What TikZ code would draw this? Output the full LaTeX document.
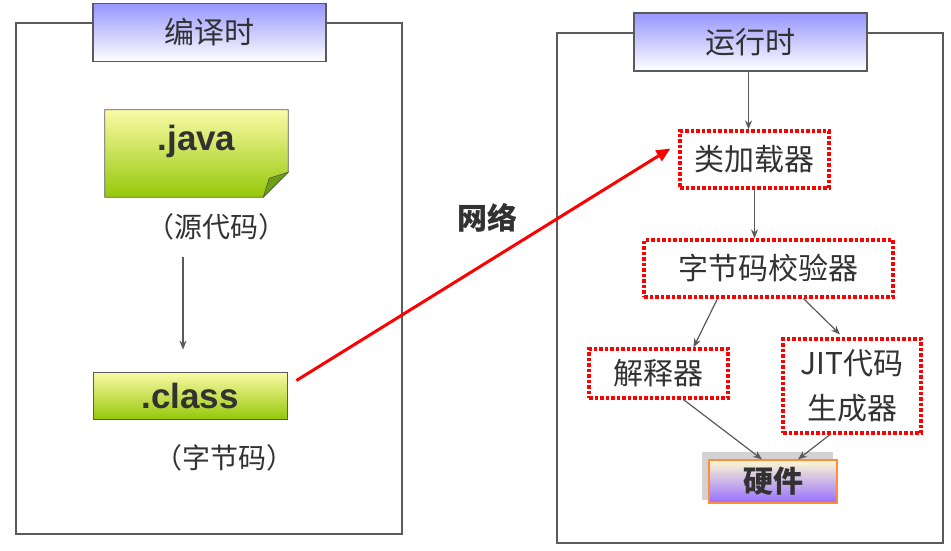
\documentclass[tikz,border=0pt]{standalone}
\usepackage{fontspec}
\setmainfont{Liberation Sans}
\newfontfamily\cjk{Noto Sans CJK SC}
\usepackage{xcolor}
\usetikzlibrary{arrows.meta,positioning,calc}

\definecolor{titletop}{RGB}{150,150,255}
\definecolor{greentop}{RGB}{250,250,165}
\definecolor{greenbot}{RGB}{150,200,10}
\definecolor{foldgreen}{RGB}{110,160,20}
\definecolor{hwtop}{RGB}{255,250,210}
\definecolor{hwbot}{RGB}{150,110,255}
\definecolor{hwedge}{RGB}{255,140,60}
\definecolor{textgray}{RGB}{50,50,50}
\definecolor{edgegray}{RGB}{90,90,90}

\begin{document}
\begin{tikzpicture}[
		x=1pt,y=-1pt,
		frame/.style={draw=edgegray,line width=1.2pt},
		title/.style={draw=edgegray,line width=1.2pt,top color=titletop,bottom color=white,minimum width=233pt,minimum height=58pt,text=textgray,font=\cjk\fontsize{30}{32}\selectfont},
		srcbox/.style={draw=edgegray,line width=0.8pt,top color=greentop,bottom color=greenbot,text=textgray,font=\bfseries\fontsize{35}{38}\selectfont},
		note/.style={text=textgray,font=\cjk\fontsize{28}{30}\selectfont},
		stage/.style={draw=red,line width=3.2pt,dash pattern=on 3.5pt off 2pt,text=textgray,font=\cjk\fontsize{30}{45}\selectfont,align=center},
		hardware/.style={draw=hwedge,line width=1.2pt,top color=hwtop,bottom color=hwbot,minimum width=128pt,minimum height=43pt,text=textgray,font=\cjk\bfseries\fontsize{30}{32}\selectfont},
		conn/.style={-{Stealth[length=9pt,width=7pt]},draw=edgegray,line width=1.2pt},
		net/.style={-{Triangle[length=14pt,width=12pt]},draw=red,line width=3pt}
		]
		\useasboundingbox (0,0) rectangle (951,550);
		\fill[white] (0,0) rectangle (951,550);
		\draw[frame] (16,23) rectangle (402,534);
		\draw[frame] (557,33) rectangle (943,543);
		\node[title] (compile) at (209.5,32.5) {编译时};
		\node[title] (runtime) at (750.5,42) {运行时};
		\node[minimum width=183pt,minimum height=87pt] (java) at (196.5,153.5) {};
		\shade[top color=greentop,bottom color=greenbot,draw=edgegray,line width=0.8pt] (java.north west) -- (java.north east) -- ($(java.south east)+(0,-25)$) -- ($(java.south east)+(-25,0)$) -- (java.south west) -- cycle;
		\filldraw[fill=foldgreen,draw=edgegray,line width=0.6pt] ($(java.south east)+(0,-25)$) -- ($(java.south east)+(-19,-19)$) -- ($(java.south east)+(-25,0)$) -- cycle;
		\node[text=textgray,font=\bfseries\fontsize{35}{38}\selectfont] (javatext) at ($(java.center)+(0,-12)$) {.java};
		\node[note] (srclabel) at (216,227) {（源代码）};
		\node[srcbox,minimum width=194pt,minimum height=47pt] (class) at (190,395.5) {.class};
		\node[note] (bytelabel) at (224,458) {（字节码）};
		\node[text=textgray,font=\cjk\bfseries\fontsize{30}{32}\selectfont] (network) at (487,218) {网络};
		\node[stage,minimum width=149pt,minimum height=57pt] (loader) at (754.5,159.5) {类加载器};
		\node[stage,minimum width=249pt,minimum height=57pt] (verifier) at (768.5,268.5) {字节码校验器};
		\node[stage,minimum width=139pt,minimum height=49pt] (interp) at (658.5,373.5) {解释器};
		\node[stage,minimum width=138pt,minimum height=94pt] (jit) at (852,386) {JIT代码\\生成器};
		\fill[gray!35] (702,452) rectangle (833,500);
		\node[hardware] (hw) at (773,481.5) {硬件};
		\draw[conn] ([xshift=-33pt,yshift=-13pt]srclabel.south) -- ([xshift=-7pt,yshift=22pt]class.north);
		\draw[conn] ([xshift=-2pt]runtime.south) -- ([xshift=-2pt]runtime.south |- loader.north);
		\draw[conn] (loader.south) -- (loader.south |- verifier.north);
		\draw[conn] ([xshift=-51pt]verifier.south) -- ([xshift=35pt]interp.north);
		\draw[conn] ([xshift=35pt]verifier.south) -- ([xshift=-12pt,yshift=3pt]jit.north);
		\draw[conn] ([xshift=25pt]interp.south) -- ([xshift=-11pt]hw.north);
		\draw[conn] ([xshift=-22pt]jit.south) -- ([xshift=25pt]hw.north);
		\draw[net] ([xshift=9pt,yshift=15pt]class.east) -- ([xshift=-8pt,yshift=11pt]loader.west);
	\end{tikzpicture}
\end{document}
